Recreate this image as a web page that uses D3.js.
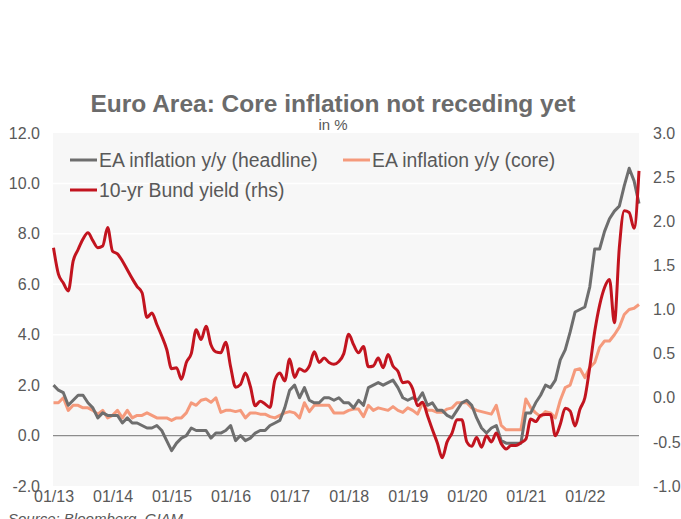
<!DOCTYPE html>
<html lang="en">
<head>
  <meta charset="UTF-8">
  <title>Euro Area inflation</title>
  <script src="https://d3js.org/d3.v7.min.js"></script>
  <style>
    body { margin: 0; background: #fff; }
    text { font-family: "Liberation Sans", Arial, sans-serif; fill: #595959; }
    .axis .domain { stroke: none; }
    .axis line { stroke: none; }
  </style>
</head>
<body>
  <svg id="chart" width="681" height="519"></svg>
  <script>
    // monthly categories 01/13 .. 12/22
    const years = [13, 14, 15, 16, 17, 18, 19, 20, 21, 22];
    const months = [];
    years.forEach(y => {
      for (let m = 1; m <= 12; m++) months.push((m < 10 ? "0" + m : m) + "/" + y);
    });
    const xTicks = ["01/13", "01/14", "01/15", "01/16", "01/17", "01/18", "01/19", "01/20", "01/21", "01/22"];
    const leftTicks = [-2, 0, 2, 4, 6, 8, 10, 12];
    const rightTicks = [-1, -0.5, 0, 0.5, 1, 1.5, 2, 2.5, 3];

    // EA inflation y/y (headline), %
    const headline = [
      2.0, 1.8, 1.7, 1.2, 1.4, 1.6, 1.6, 1.3, 1.1, 0.7, 0.9, 0.8,
      0.8, 0.8, 0.5, 0.7, 0.5, 0.5, 0.4, 0.3, 0.3, 0.4, 0.2, -0.2,
      -0.6, -0.3, -0.1, 0.0, 0.3, 0.2, 0.2, 0.2, -0.1, 0.1, 0.1, 0.2,
      0.4, -0.2, 0.0, -0.2, -0.1, 0.1, 0.2, 0.2, 0.4, 0.5, 0.6, 1.1,
      1.8, 2.0, 1.5, 1.9, 1.4, 1.3, 1.3, 1.5, 1.5, 1.4, 1.5, 1.3,
      1.3, 1.1, 1.4, 1.2, 1.9, 2.0, 2.1, 2.0, 2.1, 2.2, 1.9, 1.5,
      1.4, 1.5, 1.4, 1.7, 1.2, 1.3, 1.0, 1.0, 0.8, 0.7, 1.0, 1.3,
      1.4, 1.2, 0.7, 0.3, 0.1, 0.3, 0.4, -0.2, -0.3, -0.3, -0.3, -0.3,
      0.9, 0.9, 1.3, 1.6, 2.0, 1.9, 2.2, 3.0, 3.4, 4.1, 4.9, 5.0,
      5.1, 5.9, 7.4, 7.4, 8.1, 8.6, 8.9, 9.1, 9.9, 10.6, 10.1, 9.2
    ];

    // EA inflation y/y (core), %
    const core = [
      1.3, 1.3, 1.5, 1.0, 1.2, 1.2, 1.1, 1.1, 1.0, 0.85, 1.0, 0.7,
      0.8, 1.0, 0.7, 1.0, 0.7, 0.8, 0.8, 0.9, 0.8, 0.7, 0.7, 0.7,
      0.6, 0.7, 0.7, 0.9, 1.3, 1.2, 1.4, 1.45, 1.32, 1.5, 0.92, 1.0,
      1.0, 0.95, 1.0, 0.7, 0.9, 0.9, 0.85, 0.85, 0.75, 0.7, 0.8, 0.9,
      0.95, 0.9, 0.7, 1.3, 0.95, 1.2, 1.2, 1.2, 1.2, 0.9, 0.9, 0.9,
      1.0, 1.05, 1.05, 0.75, 1.2, 1.0, 1.1, 1.05, 1.0, 1.15, 1.0, 0.92,
      1.1, 1.0, 0.85, 1.3, 1.0, 1.0, 0.92, 0.92, 1.05, 1.1, 1.3, 1.3,
      1.3, 1.1, 1.0, 0.95, 0.9, 0.85, 1.2, 0.4, 0.23, 0.23, 0.23, 0.23,
      1.45, 1.1, 0.9, 0.75, 0.95, 0.9, 0.7, 1.4, 1.9, 2.0, 2.6, 2.65,
      2.3, 2.7, 2.9, 3.5, 3.75, 3.75, 4.0, 4.3, 4.8, 5.0, 5.05, 5.2
    ];

    // 10-yr Bund yield, % (rhs)
    const bund = [
      1.70, 1.40, 1.30, 1.21, 1.55, 1.68, 1.80, 1.87, 1.78, 1.70, 1.72, 1.93,
      1.66, 1.63, 1.55, 1.45, 1.35, 1.26, 1.19, 0.91, 0.96, 0.83, 0.70, 0.55,
      0.33, 0.34, 0.21, 0.40, 0.50, 0.77, 0.66, 0.81, 0.60, 0.52, 0.51, 0.63,
      0.35, 0.12, 0.15, 0.28, 0.13, -0.09, -0.04, -0.07, -0.11, 0.20, 0.28, 0.19,
      0.44, 0.23, 0.33, 0.30, 0.36, 0.52, 0.40, 0.45, 0.40, 0.38, 0.41, 0.50,
      0.72, 0.60, 0.51, 0.58, 0.35, 0.36, 0.45, 0.34, 0.49, 0.36, 0.30, 0.17,
      0.18, 0.10, -0.09, -0.05, -0.20, -0.36, -0.51, -0.68, -0.50, -0.40, -0.25, -0.25,
      -0.50, -0.55, -0.45, -0.56, -0.43, -0.50, -0.40, -0.52, -0.58, -0.54, -0.54, -0.51,
      -0.47, -0.24, -0.27, -0.20, -0.19, -0.19, -0.43, -0.30, -0.12, -0.15, -0.32, -0.13,
      0.00, 0.35, 0.75, 1.05, 1.25, 1.34, 0.85, 1.70, 2.12, 2.10, 1.92, 2.57
    ];

    const svg = d3.select("svg#chart");
    let margin = {top: 133, right: 42, left: 53, bottom: 33};
    let width = +svg.attr("width");
    let height = +svg.attr("height");
    let plotRight = width - margin.right;
    let plotBottom = height - margin.bottom;

    const xScale = d3.scalePoint()
                     .domain(months)
                     .range([margin.left + 0.5, plotRight]);
    const yLeft = d3.scaleLinear()
                    .domain([-2, 12])
                    .range([plotBottom, margin.top]);
    const yRight = d3.scaleLinear()
                     .domain([-1, 3])
                     .range([plotBottom, margin.top]);

    // plot background
    svg.append("rect")
       .attr("x", margin.left)
       .attr("y", margin.top)
       .attr("width", plotRight - margin.left)
       .attr("height", plotBottom - margin.top)
       .style("fill", "#f7f7f7");

    // white gridlines
    svg.append("g")
       .selectAll("line")
       .data(leftTicks.filter(d => d > -2 && d < 12))
       .join("line")
       .attr("x1", margin.left)
       .attr("x2", plotRight)
       .attr("y1", d => yLeft(d))
       .attr("y2", d => yLeft(d))
       .style("stroke", "#ffffff")
       .style("stroke-width", 1.5);

    // zero line
    svg.append("line")
       .attr("x1", margin.left)
       .attr("x2", plotRight)
       .attr("y1", yLeft(0))
       .attr("y2", yLeft(0))
       .style("stroke", "#8c8c8c")
       .style("stroke-width", 1.2);

    const fmt = d => d.toFixed(1);

    let leftAxis = d3.axisLeft(yLeft).tickValues(leftTicks).tickFormat(fmt).tickSize(0).tickPadding(13);
    svg.append("g")
       .attr("class", "axis")
       .attr("transform", `translate(${margin.left},0)`)
       .call(leftAxis)
       .selectAll("text")
       .style("font-size", "16px")
       .style("fill", "#595959");

    let rightAxis = d3.axisRight(yRight).tickValues(rightTicks).tickFormat(fmt).tickSize(0).tickPadding(14);
    svg.append("g")
       .attr("class", "axis")
       .attr("transform", `translate(${plotRight},0)`)
       .call(rightAxis)
       .selectAll("text")
       .style("font-size", "16px")
       .style("fill", "#595959");

    let bottomAxis = d3.axisBottom(xScale).tickValues(xTicks).tickSize(0).tickPadding(5);
    svg.append("g")
       .attr("class", "axis")
       .attr("transform", `translate(0,${plotBottom})`)
       .call(bottomAxis)
       .selectAll("text")
       .style("font-size", "16px")
       .style("fill", "#595959");

    // series
    const lineLeft = d3.line()
                       .x((d, i) => xScale(months[i]))
                       .y(d => yLeft(d));
    const lineRight = d3.line()
                        .x((d, i) => xScale(months[i]))
                        .y(d => yRight(d))
                        .curve(d3.curveMonotoneX);

    svg.append("path")
       .datum(core)
       .attr("d", lineLeft)
       .style("fill", "none")
       .style("stroke", "#f59a7c")
       .style("stroke-width", 3)
       .style("stroke-linejoin", "round");

    svg.append("path")
       .datum(headline)
       .attr("d", lineLeft)
       .style("fill", "none")
       .style("stroke", "#6e6e6e")
       .style("stroke-width", 3)
       .style("stroke-linejoin", "round");

    svg.append("path")
       .datum(bund)
       .attr("d", lineRight)
       .style("fill", "none")
       .style("stroke", "#c2141f")
       .style("stroke-width", 3)
       .style("stroke-linejoin", "round");

    // legend
    const legend = [
      {name: "EA inflation y/y (headline)", color: "#6e6e6e", x: 70, y: 160},
      {name: "EA inflation y/y (core)", color: "#f59a7c", x: 343, y: 160},
      {name: "10-yr Bund yield (rhs)", color: "#c2141f", x: 70, y: 190}
    ];
    legend.forEach(d => {
      svg.append("line")
         .attr("x1", d.x)
         .attr("x2", d.x + 27)
         .attr("y1", d.y)
         .attr("y2", d.y)
         .style("stroke", d.color)
         .style("stroke-width", 3);
      svg.append("text")
         .attr("x", d.x + 29)
         .attr("y", d.y + 7)
         .style("font-size", "19.4px")
         .style("fill", "#595959")
         .text(d.name);
    });

    // titles
    svg.append("text")
       .attr("x", 333)
       .attr("y", 112)
       .attr("text-anchor", "middle")
       .style("font-size", "24.5px")
       .style("font-weight", "bold")
       .style("fill", "#6b6b6b")
       .text("Euro Area: Core inflation not receding yet");

    svg.append("text")
       .attr("x", 333)
       .attr("y", 130)
       .attr("text-anchor", "middle")
       .style("font-size", "15px")
       .style("fill", "#595959")
       .text("in %");

    svg.append("text")
       .attr("x", 8)
       .attr("y", 524)
       .style("font-size", "15px")
       .style("font-style", "italic")
       .style("fill", "#595959")
       .text("Source: Bloomberg, GIAM");
  </script>
</body>
</html>
